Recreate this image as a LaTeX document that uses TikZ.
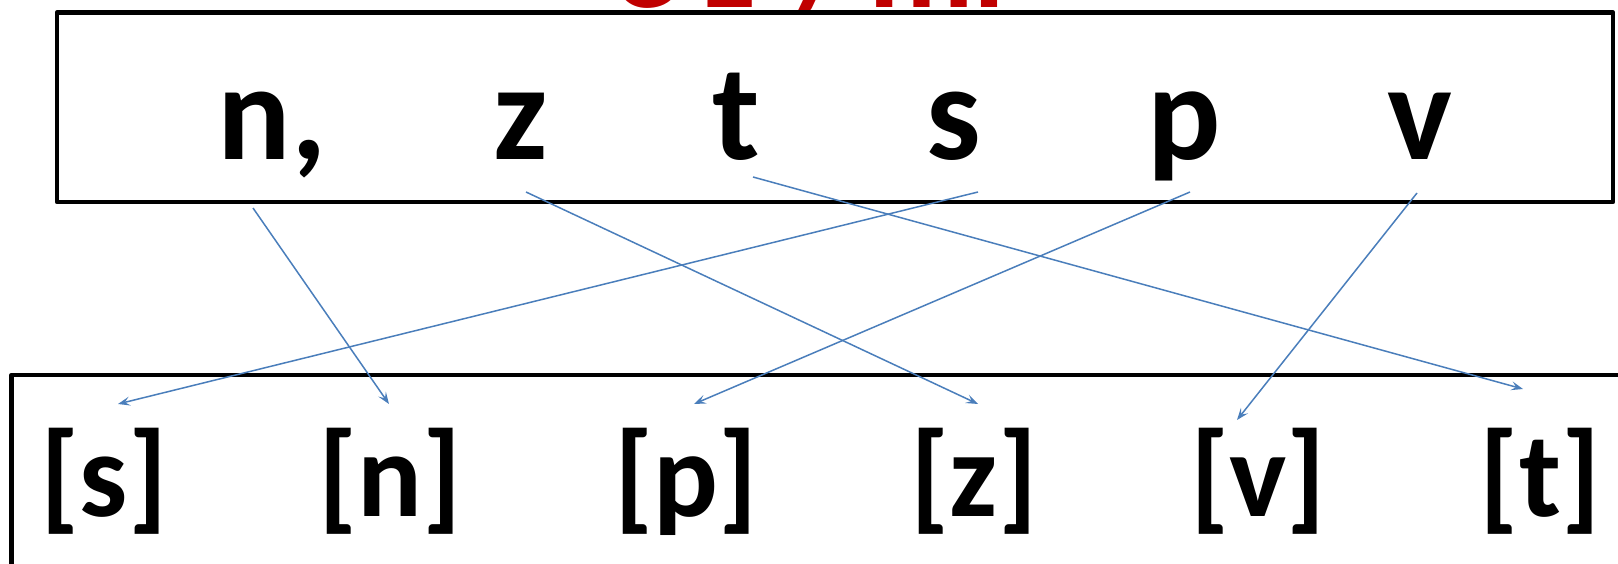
\documentclass[tikz,border=0pt]{standalone}
\usepackage{fontspec}
\setmainfont{Carlito}
\usetikzlibrary{arrows.meta}
\definecolor{lineblue}{HTML}{4A7EBB}
\definecolor{titlered}{HTML}{C00000}
\tikzset{
  box/.style={draw=black,line width=4.5pt,line join=round},
  toplet/.style={inner sep=0pt,anchor=base,font=\bfseries\fontsize{137}{137}\selectfont},
  botlet/.style={inner sep=0pt,anchor=base,font=\bfseries\fontsize{121}{121}\selectfont},
  link/.style={draw=lineblue,line width=1.5pt,-{Stealth[length=12pt,width=9pt,inset=5pt]}},
  titletext/.style={inner sep=0pt,anchor=base,text=titlered,font=\bfseries\fontsize{130}{130}\selectfont}
}
\begin{document}
\begin{tikzpicture}[x=1pt,y=-1pt]
\useasboundingbox (0,0) rectangle (1618,564);
\begin{scope}
\clip (0,0) rectangle (1618,564);
% title fragment (cut off at top)
\node[titletext] (title1) at (645,7.5) {e};
\node[titletext] (title2) at (730,7.5) {z};
\node[titletext] (title3) at (826,7.5) {/};
\node[titletext,anchor=base west] (title4) at (868,7.5) {mi};
% boxes
\draw[box,fill=white] (57,12.5) rectangle (1613,202);
\draw[box] (11.5,650) -- (11.5,375) -- (1680,375);
\end{scope}
% top letters
\node[toplet] (tn) at (272,160) {n,};
\node[toplet] (tz) at (521,160) {z};
\node[toplet] (tt) at (736,160) {t};
\node[toplet] (ts) at (954,160) {s};
\node[toplet] (tp) at (1184,160) {p};
\node[toplet] (tv) at (1420,160) {v};
% bottom letters
\node[botlet] (bs) at (104,516) {[s]};
\node[botlet] (bn) at (390,516) {[n]};
\node[botlet] (bp) at (686,516) {[p]};
\node[botlet] (bz) at (974,516) {[z]};
\node[botlet] (bv) at (1258,516) {[v]};
\node[botlet] (bt) at (1540,516) {[t]};
% connector ends
\coordinate (tnO) at (253,208);
\coordinate (tzO) at (526,192);
\coordinate (ttO) at (753,177);
\coordinate (tsO) at (978,192);
\coordinate (tpO) at (1190,192);
\coordinate (tvO) at (1417,193);
\coordinate (bnI) at (389,404);
\coordinate (bzI) at (978,404);
\coordinate (btI) at (1523,389);
\coordinate (bsI) at (118,404);
\coordinate (bpI) at (694,404);
\coordinate (bvI) at (1237,420);
% connectors
\draw[link] (tnO) -- (bnI);
\draw[link] (tzO) -- (bzI);
\draw[link] (ttO) -- (btI);
\draw[link] (tsO) -- (bsI);
\draw[link] (tpO) -- (bpI);
\draw[link] (tvO) -- (bvI);
\end{tikzpicture}
\end{document}
